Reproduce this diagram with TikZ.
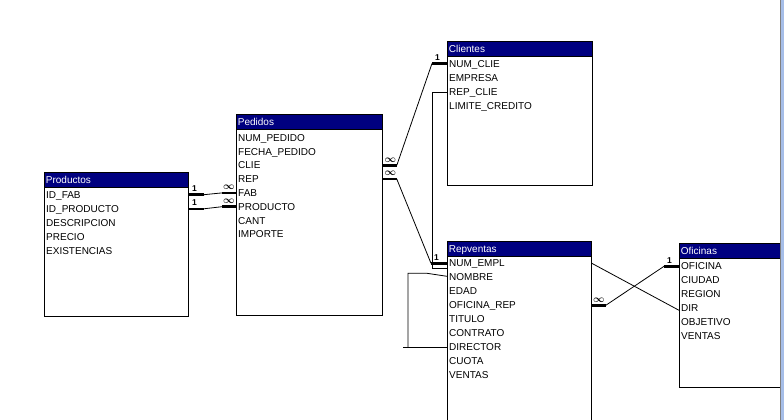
\documentclass[tikz,border=0pt]{standalone}
\usepackage{fontspec}
\setmainfont{Liberation Sans}
\usepackage{tikz}
\usetikzlibrary{positioning}
\usetikzlibrary{calc}
\definecolor{azulacc}{RGB}{0,0,128}
\definecolor{marco}{RGB}{166,190,232}

\begin{document}
\begin{tikzpicture}[x=1pt, y=-1pt,
        tabla/.style={rectangle, draw=black, line width=0.8pt, fill=white, anchor=north west, inner sep=0pt},
        titulo/.style={rectangle, draw=black, line width=0.8pt, fill=azulacc, text=white, anchor=north west, inner xsep=1.5pt, inner ysep=0pt, minimum height=15pt, text height=7.2pt, text depth=0pt, font=\fontsize{10}{12}\selectfont},
        campo/.style={anchor=west, inner sep=0pt, text height=7.2pt, text depth=0pt, font=\fontsize{10}{12}\selectfont},
        grueso/.style={line width=2.5pt},
        fino/.style={line width=0.8pt},
        uno/.style={font=\fontsize{8.5}{8.5}\selectfont\bfseries, inner sep=0pt},
        muchos/.style={font=\fontsize{10}{10}\selectfont\boldmath, inner sep=0pt}
      ]
        \useasboundingbox (0,0) rectangle (784,420);

        \node[tabla, minimum width=144pt, minimum height=144pt]  (prod)  at (44,172)   {};
        \node[titulo, text width=141pt]  (prod-t)  at (prod.north west)  {Productos};
        \foreach \n/\t [count=\i from 0] in {idfab/ID\_FAB, idprod/ID\_PRODUCTO, desc/DESCRIPCION, precio/PRECIO, exist/EXISTENCIAS}
          \node[campo]  (prod-\n)  at (46, {194.7+14.1*\i})  {\t};

        \node[tabla, minimum width=146pt, minimum height=201pt]  (ped)  at (236,114)   {};
        \node[titulo, text width=143pt]  (ped-t)  at (ped.north west)  {Pedidos};
        \foreach \n/\t [count=\i from 0] in {num/NUM\_PEDIDO, fecha/FECHA\_PEDIDO, clie/CLIE, rep/REP, fab/FAB, prod/PRODUCTO, cant/CANT, imp/IMPORTE}
          \node[campo]  (ped-\n)  at (238, {137.7+13.8*\i})  {\t};

        \node[tabla, minimum width=145pt, minimum height=144pt]  (cli)  at (447,41)   {};
        \node[titulo, text width=142pt]  (cli-t)  at (cli.north west)  {Clientes};
        \foreach \n/\t [count=\i from 0] in {num/NUM\_CLIE, emp/EMPRESA, repcli/REP\_CLIE, lim/LIMITE\_CREDITO}
          \node[campo]  (cli-\n)  at (449, {63.5+14.2*\i})  {\t};

        \node[tabla, minimum width=144pt, minimum height=190pt]  (rep)  at (447,241)   {};
        \node[titulo, text width=141pt]  (rep-t)  at (rep.north west)  {Repventas};
        \foreach \n/\t [count=\i from 0] in {num/NUM\_EMPL, nombre/NOMBRE, edad/EDAD, ofi/OFICINA\_REP, titulo/TITULO, contrato/CONTRATO, director/DIRECTOR, cuota/CUOTA, ventas/VENTAS}
          \node[campo]  (rep-\n)  at (449, {263.3+14*\i})  {\t};

        \node[tabla, minimum width=101pt, minimum height=144pt]  (ofi)  at (679,243)   {};
        \node[titulo, text width=98pt]  (ofi-t)  at (ofi.north west)  {Oficinas};
        \foreach \n/\t [count=\i from 0] in {ofi/OFICINA, ciudad/CIUDAD, region/REGION, dir/DIR, obj/OBJETIVO, ventas/VENTAS}
          \node[campo]  (ofi-\n)  at (681, {266.3+14*\i})  {\t};

        % Productos - Pedidos
        \draw[grueso]  (prod.east |- prod-idfab) coordinate (r1s) -- ++(15,0) coordinate (r1a);
        \draw[grueso]  (ped.west |- ped-fab) -- ++(-14,0) coordinate (r1b);
        \draw[fino]  (r1a) -- (r1b);
        \node[uno, above right=3pt and 3pt of r1s]  (uno1)  {1};
        \node[muchos, above right=3pt and 1pt of r1b]  (muchos1)  {$\infty$};

        \draw[grueso]  (prod.east |- prod-idprod) coordinate (r2s) -- ++(15,0) coordinate (r2a);
        \draw[grueso]  (ped.west |- ped-prod) -- ++(-14,0) coordinate (r2b);
        \draw[fino]  (r2a) -- (r2b);
        \node[uno, above right=3pt and 3pt of r2s]  (uno2)  {1};
        \node[muchos, above right=3pt and 1pt of r2b]  (muchos2)  {$\infty$};

        % Pedidos - Clientes, Repventas
        \draw[grueso]  (ped.east |- ped-clie) coordinate (r3s) -- ++(14,0) coordinate (r3a);
        \draw[grueso]  (cli.west |- cli-num) -- ++(-15,0) coordinate (r3b);
        \draw[fino]  (r3a) -- (r3b);
        \node[muchos, above right=3pt and 1.5pt of r3s]  (muchos3)  {$\infty$};
        \node[uno, above right=3pt and 3pt of r3b]  (uno3)  {1};

        \draw[grueso]  (ped.east |- ped-rep) coordinate (r4s) -- ++(14,0) coordinate (r4a);
        \draw[grueso]  (rep.west |- rep-num) -- ++(-16,0) coordinate (r4b);
        \draw[fino]  (r4a) -- (r4b);
        \node[muchos, above right=3pt and 1.5pt of r4s]  (muchos4)  {$\infty$};
        \node[uno, above right=3pt and 3pt of r4b]  (uno4)  {1};

        \draw[fino]  (cli.west |- cli-repcli) -- ++(-15,0) |- ($(rep.west |- rep-num)+(0,5)$);

        % Repventas - Repventas
        \draw[fino]  ($(rep.west |- rep-nombre)+(0,-1)$) -- ++(-20,-3) -- ++(-19,0) coordinate (r6c) -- (r6c |- rep-director);
        \draw[fino]  (rep.west |- rep-director) -- ++(-44,0) coordinate (r6d);

        % Repventas - Oficinas
        \draw[grueso]  (rep.east |- rep-ofi) coordinate (r7s) -- ++(14,0) coordinate (r7a);
        \draw[grueso]  (ofi.west |- ofi-ofi) -- ++(-15,0) coordinate (r7b);
        \draw[fino]  (r7a) -- (r7b);
        \node[muchos, above right=3pt and 1pt of r7s]  (muchos7)  {$\infty$};
        \node[uno, above right=3pt and 3pt of r7b]  (uno7)  {1};

        \draw[fino]  (rep.east |- rep-num) -- ($(ofi.west |- ofi-dir)+(0,2)$);

        \fill[marco] (781,0) rectangle (784,420);
        \draw[gray, line width=0.8pt] (780.5,0) -- (780.5,420);
      \end{tikzpicture}
\end{document}
